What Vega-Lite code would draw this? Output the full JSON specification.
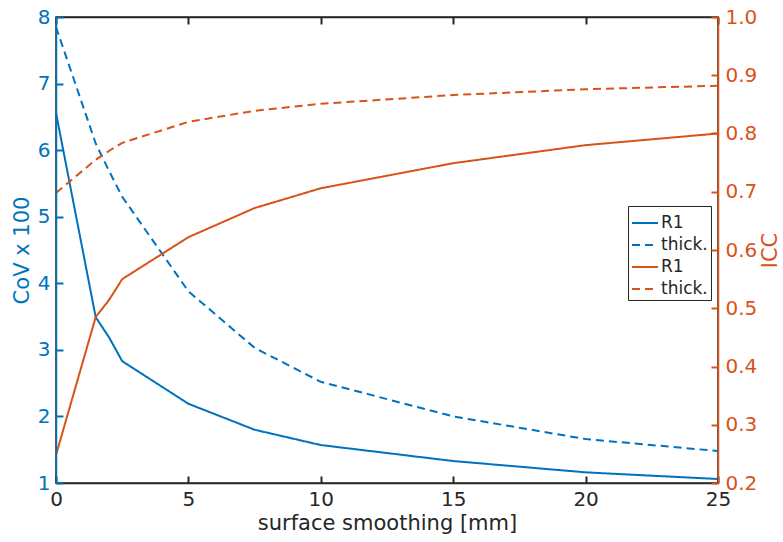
{
  "$schema": "https://vega.github.io/schema/vega-lite/v6.json",
  "width": 662,
  "height": 466,
  "autosize": "none",
  "padding": {"left": 56, "top": 17, "right": 65, "bottom": 59},
  "background": "white",
  "config": {
    "view": {"stroke": "#262626", "strokeWidth": 1.5},
    "font": "DejaVu Sans",
    "axis": {"grid": false, "ticks": true, "tickOpacity": 1, "labelFontSize": 20, "titleFontSize": 21, "labelFontWeight": "normal", "titleFontWeight": "normal", "domainWidth": 1.5, "tickWidth": 2, "labelFlush": false, "zindex": 1}
  },
  "datasets": {
    "cov": [
      {"x": 0, "series": "CoV R1", "value": 6.56},
      {"x": 1.5, "series": "CoV R1", "value": 3.49},
      {"x": 2, "series": "CoV R1", "value": 3.19},
      {"x": 2.5, "series": "CoV R1", "value": 2.83},
      {"x": 5, "series": "CoV R1", "value": 2.19},
      {"x": 7.5, "series": "CoV R1", "value": 1.8},
      {"x": 10, "series": "CoV R1", "value": 1.57},
      {"x": 15, "series": "CoV R1", "value": 1.33},
      {"x": 20, "series": "CoV R1", "value": 1.16},
      {"x": 25, "series": "CoV R1", "value": 1.06},
      {"x": 0, "series": "CoV thick.", "value": 7.85},
      {"x": 1.5, "series": "CoV thick.", "value": 6.1},
      {"x": 2, "series": "CoV thick.", "value": 5.69},
      {"x": 2.5, "series": "CoV thick.", "value": 5.3},
      {"x": 5, "series": "CoV thick.", "value": 3.88},
      {"x": 7.5, "series": "CoV thick.", "value": 3.03},
      {"x": 10, "series": "CoV thick.", "value": 2.52},
      {"x": 15, "series": "CoV thick.", "value": 2.0},
      {"x": 20, "series": "CoV thick.", "value": 1.66},
      {"x": 25, "series": "CoV thick.", "value": 1.48}
    ],
    "icc": [
      {"x": 0, "series": "ICC R1", "value": 0.248},
      {"x": 1.5, "series": "ICC R1", "value": 0.485},
      {"x": 2, "series": "ICC R1", "value": 0.514},
      {"x": 2.5, "series": "ICC R1", "value": 0.55},
      {"x": 5, "series": "ICC R1", "value": 0.622},
      {"x": 7.5, "series": "ICC R1", "value": 0.672},
      {"x": 10, "series": "ICC R1", "value": 0.706},
      {"x": 15, "series": "ICC R1", "value": 0.749},
      {"x": 20, "series": "ICC R1", "value": 0.78},
      {"x": 25, "series": "ICC R1", "value": 0.8},
      {"x": 0, "series": "ICC thick.", "value": 0.698},
      {"x": 1.5, "series": "ICC thick.", "value": 0.755},
      {"x": 2, "series": "ICC thick.", "value": 0.77},
      {"x": 2.5, "series": "ICC thick.", "value": 0.784},
      {"x": 5, "series": "ICC thick.", "value": 0.82},
      {"x": 7.5, "series": "ICC thick.", "value": 0.839},
      {"x": 10, "series": "ICC thick.", "value": 0.851},
      {"x": 15, "series": "ICC thick.", "value": 0.866},
      {"x": 20, "series": "ICC thick.", "value": 0.876},
      {"x": 25, "series": "ICC thick.", "value": 0.882}
    ]
  },
  "layer": [
    {
      "data": {"name": "cov"},
      "mark": {"type": "line", "strokeWidth": 2},
      "encoding": {
        "x": {"field": "x", "type": "quantitative", "scale": {"domain": [0, 25], "nice": false},
          "axis": {"orient": "bottom", "title": "surface smoothing [mm]", "values": [0, 5, 10, 15, 20, 25], "domainColor": "#262626", "tickColor": "#262626", "labelColor": "#262626", "titleColor": "#262626", "ticks": true, "tickSize": -7, "labelPadding": 13, "titlePadding": 3, "labelFontSize": 20, "titleFontSize": 21, "labelFlush": false, "zindex": 1}},
        "y": {"field": "value", "type": "quantitative", "scale": {"domain": [1, 8], "nice": false, "zero": false},
          "axis": {"orient": "left", "title": "CoV x 100", "values": [1, 2, 3, 4, 5, 6, 7, 8], "domainColor": "#0072BD", "tickColor": "#0072BD", "labelColor": "#0072BD", "titleColor": "#0072BD", "ticks": true, "tickSize": -7, "labelPadding": 13, "labelFontSize": 20, "titleFontSize": 21, "labelFlush": false, "zindex": 1, "titleX": -34, "titleY": 233, "titleAngle": 270, "titleAlign": "center", "titleBaseline": "middle"}},
        "color": {"field": "series", "type": "nominal",
          "scale": {"domain": ["CoV R1", "CoV thick.", "ICC R1", "ICC thick."], "range": ["#0072BD", "#0072BD", "#D95319", "#D95319"]},
          "legend": {"title": null, "orient": "none", "legendX": 572, "legendY": 189, "labelExpr": "split(datum.label, ' ')[1]", "symbolType": "stroke", "symbolSize": 676, "symbolStrokeWidth": 2, "labelFontSize": 17, "labelColor": "#262626", "rowPadding": -9, "padding": 3, "labelOffset": 2, "strokeColor": "#262626", "fillColor": "white"}},
        "strokeDash": {"field": "series", "type": "nominal",
          "scale": {"domain": ["CoV R1", "CoV thick.", "ICC R1", "ICC thick."], "range": [[1, 0], [8, 5], [1, 0], [8, 5]]},
          "legend": {"title": null, "orient": "none", "legendX": 572, "legendY": 189, "labelExpr": "split(datum.label, ' ')[1]", "symbolType": "stroke", "symbolSize": 676, "symbolStrokeWidth": 2, "labelFontSize": 17, "labelColor": "#262626", "rowPadding": -9, "padding": 3, "labelOffset": 2, "strokeColor": "#262626", "fillColor": "white"}}
      }
    },
    {
      "data": {"name": "icc"},
      "mark": {"type": "line", "strokeWidth": 2},
      "encoding": {
        "x": {"field": "x", "type": "quantitative", "scale": {"domain": [0, 25], "nice": false},
          "axis": {"orient": "top", "title": "", "labels": false, "values": [0, 5, 10, 15, 20, 25], "domain": true, "ticks": true, "domainColor": "#262626", "tickColor": "#262626", "tickSize": -7, "zindex": 1}},
        "y": {"field": "value", "type": "quantitative", "scale": {"domain": [0.2, 1], "nice": false, "zero": false},
          "axis": {"orient": "right", "title": "ICC", "values": [0.2, 0.3, 0.4, 0.5, 0.6, 0.7, 0.8, 0.9, 1], "domainColor": "#D95319", "tickColor": "#D95319", "labelColor": "#D95319", "titleColor": "#D95319", "ticks": true, "tickSize": -7, "labelPadding": 14, "labelFontSize": 20, "titleFontSize": 21, "labelFlush": false, "zindex": 1, "titleX": 52, "titleY": 233, "titleAngle": 270, "titleAlign": "center", "titleBaseline": "middle"}},
        "color": {"field": "series", "type": "nominal"},
        "strokeDash": {"field": "series", "type": "nominal"}
      }
    }
  ],
  "resolve": {"scale": {"x": "independent", "y": "independent"}, "axis": {"x": "independent"}}
}
